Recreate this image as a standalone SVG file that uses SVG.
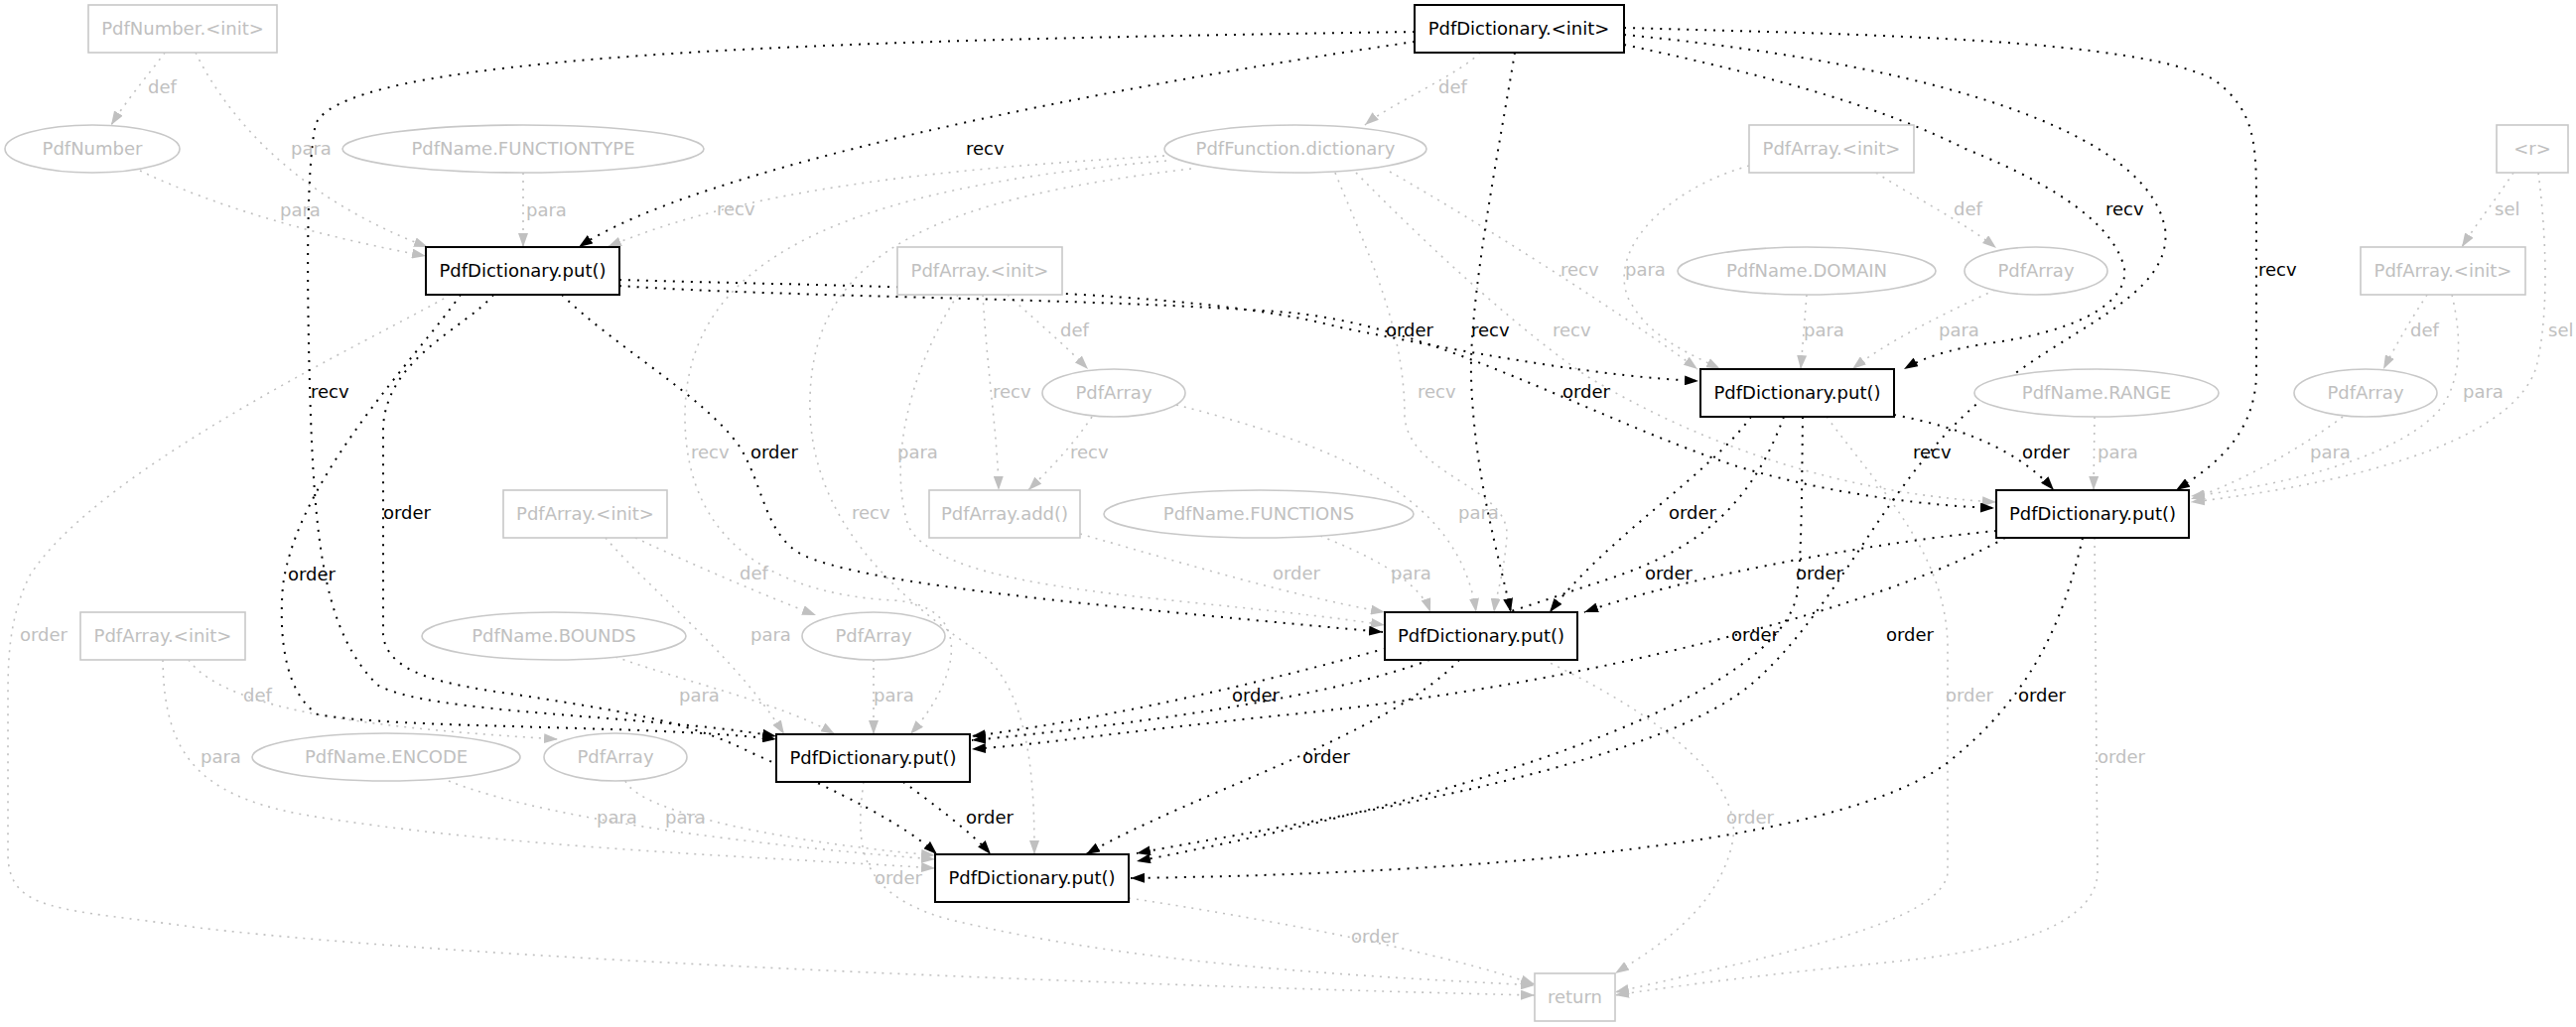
<svg xmlns="http://www.w3.org/2000/svg" width="2595" height="1035" viewBox="0 0 2595 1035">
<defs>
<style>
text{font-family:"DejaVu Sans","Liberation Sans",sans-serif;font-size:18px}
.nb rect{fill:#fff;stroke:#000;stroke-width:2}
.nb text{fill:#000;text-anchor:middle}
.ng rect,.ng ellipse{fill:#fff;stroke:#c8c8c8;stroke-width:1.6}
.ng text{fill:#c0c0c0;text-anchor:middle}
.eb{fill:none;stroke:#000;stroke-width:2;stroke-dasharray:2,7;marker-end:url(#ab)}
.eg{fill:none;stroke:#c0c0c0;stroke-width:1.6;stroke-dasharray:2,6;marker-end:url(#ag)}
.lb{fill:#000}
.lg{fill:#c0c0c0}
</style>
<marker id="ab" viewBox="0 0 14 10" refX="14" refY="5" markerWidth="14" markerHeight="10" markerUnits="userSpaceOnUse" orient="auto"><path d="M0,0L14,5L0,10z" fill="#000"/></marker>
<marker id="ag" viewBox="0 0 14 10" refX="14" refY="5" markerWidth="14" markerHeight="10" markerUnits="userSpaceOnUse" orient="auto"><path d="M0,0L14,5L0,10z" fill="#c0c0c0"/></marker>
</defs>
<rect width="2595" height="1035" fill="#fff"/>
<g id="edges">
<path class="eg" d="M166,53 C150,75 128,100 112,126"/>
<path class="eg" d="M197,53 C230,120 300,200 431,249"/>
<path class="eg" d="M141,172 C220,210 330,240 429,258"/>
<path class="eg" d="M527,174 L527,249"/>
<path class="eg" d="M1173,157 C950,170 750,190 612,249"/>
<path class="eg" d="M1175,162 C850,190 690,260 690,420 C690,560 800,600 900,605 C980,610 970,680 917,740"/>
<path class="eg" d="M1200,170 C950,200 820,250 816,400 C812,520 900,600 990,660 C1040,700 1042,800 1042,861"/>
<path class="eg" d="M1400,173 C1500,230 1640,320 1710,372"/>
<path class="eg" d="M1366,174 C1450,260 1540,340 1600,380 C1750,470 1900,500 2011,506"/>
<path class="eg" d="M1345,174 C1380,260 1415,330 1415,420 C1420,480 1520,490 1518,540 C1515,580 1507,600 1505,617"/>
<path class="eg" d="M1491,53 C1470,75 1400,105 1375,126"/>
<path class="eg" d="M1015,297 C1040,320 1070,345 1096,372"/>
<path class="eg" d="M990,297 C995,380 1005,440 1006,494"/>
<path class="eg" d="M1100,420 C1080,450 1055,475 1036,494"/>
<path class="eg" d="M965,297 C930,350 890,450 915,530 C950,600 1200,600 1395,630"/>
<path class="eg" d="M1088,538 C1200,570 1300,600 1395,617"/>
<path class="eg" d="M1185,408 C1350,450 1470,500 1487,617"/>
<path class="eg" d="M1330,540 C1380,560 1430,585 1441,617"/>
<path class="eg" d="M1890,174 C1930,200 1980,225 2011,250"/>
<path class="eg" d="M1762,167 C1680,190 1620,250 1640,300 C1660,340 1700,355 1733,372"/>
<path class="eg" d="M1820,297 L1814,372"/>
<path class="eg" d="M2010,292 C1950,320 1900,345 1866,372"/>
<path class="eg" d="M2532,174 C2515,200 2495,225 2480,249"/>
<path class="eg" d="M2557,174 C2568,260 2565,330 2555,370 C2530,450 2350,490 2207,506"/>
<path class="eg" d="M2445,297 C2430,320 2415,345 2401,372"/>
<path class="eg" d="M2470,297 C2480,340 2480,380 2460,410 C2420,460 2300,490 2207,500"/>
<path class="eg" d="M2360,420 C2320,450 2260,485 2207,503"/>
<path class="eg" d="M2110,420 L2109,494"/>
<path class="eg" d="M640,542 C700,570 770,600 822,620"/>
<path class="eg" d="M610,542 C660,600 740,660 790,740"/>
<path class="eg" d="M620,662 C700,690 790,710 841,740"/>
<path class="eg" d="M880,665 L880,740"/>
<path class="eg" d="M190,665 C230,720 400,735 562,745"/>
<path class="eg" d="M164,665 C165,760 200,800 300,820 C500,855 800,865 942,875"/>
<path class="eg" d="M452,787 C560,830 800,855 942,866"/>
<path class="eg" d="M630,787 C645,820 800,850 942,862"/>
<path class="eg" d="M454,297 C380,340 100,470 30,580 C10,620 8,660 8,700 L8,860 C8,920 60,915 200,935 C500,970 1200,995 1546,1003"/>
<path class="eg" d="M870,788 C860,860 870,900 950,925 C1150,975 1400,985 1546,993"/>
<path class="eg" d="M1137,905 C1300,930 1450,960 1546,992"/>
<path class="eg" d="M1555,665 C1650,710 1760,780 1745,850 C1730,920 1660,960 1627,981"/>
<path class="eg" d="M1840,420 C1900,500 1960,560 1962,650 L1962,880 C1955,930 1800,960 1627,1000"/>
<path class="eg" d="M2110,542 L2113,880 C2110,940 2000,960 1900,970 C1750,985 1680,995 1627,1003"/>
<path class="eb" d="M1425,42 C1100,90 700,170 583,249"/>
<path class="eb" d="M1425,32 C900,40 350,50 318,125 C308,170 309,300 313,420 C318,560 330,640 380,690 C430,720 650,720 782,742"/>
<path class="eb" d="M464,297 C420,360 300,480 285,590 C280,650 290,700 320,720 C400,735 650,730 782,745"/>
<path class="eb" d="M497,297 C470,330 390,360 386,430 L386,640 C390,680 450,690 520,700 C650,720 700,730 760,760 C850,800 910,830 944,861"/>
<path class="eb" d="M566,297 C620,350 710,400 745,450 C770,490 770,540 810,560 C880,590 1100,610 1393,637"/>
<path class="eb" d="M624,282 C900,290 1200,290 1350,330 C1500,360 1620,380 1711,384"/>
<path class="eb" d="M624,288 C800,300 1100,300 1300,315 C1450,330 1600,420 1750,470 C1850,500 1950,510 2009,512"/>
<path class="eb" d="M1526,53 C1510,150 1480,300 1482,380 C1485,480 1510,560 1522,617"/>
<path class="eb" d="M1636,45 C1800,80 1900,110 1980,150 C2080,190 2130,230 2140,270 C2145,310 2080,335 2010,345 C1960,352 1935,362 1918,372"/>
<path class="eb" d="M1636,35 C1900,60 2160,120 2181,230 C2190,300 2080,330 2000,400 C1900,480 1850,620 1760,693 C1650,780 1300,830 1145,860"/>
<path class="eb" d="M1636,28 C1900,35 2150,40 2230,80 C2270,110 2273,140 2273,200 L2273,380 C2270,440 2230,470 2192,494"/>
<path class="eb" d="M1908,418 C1970,430 2030,450 2069,494"/>
<path class="eb" d="M1764,420 C1720,480 1620,540 1561,617"/>
<path class="eb" d="M1797,420 C1760,520 1700,560 1600,590 C1400,660 1150,720 979,742"/>
<path class="eb" d="M1816,420 C1815,500 1815,560 1810,600 C1790,700 1500,800 1145,868"/>
<path class="eb" d="M2011,535 C1900,545 1700,580 1596,617"/>
<path class="eb" d="M2020,542 C1900,610 1600,690 1300,720 C1150,735 1050,750 979,755"/>
<path class="eb" d="M2098,542 C2080,620 2050,700 1960,770 C1850,850 1500,880 1139,885"/>
<path class="eb" d="M1440,665 C1350,700 1150,730 979,746"/>
<path class="eb" d="M1470,665 C1400,740 1200,800 1094,861"/>
<path class="eb" d="M910,788 C940,810 980,840 998,861"/>
<text class="lg" x="149" y="94">def</text>
<text class="lg" x="293" y="156">para</text>
<text class="lg" x="282" y="218">para</text>
<text class="lg" x="530" y="218">para</text>
<text class="lg" x="722" y="217">recv</text>
<text class="lg" x="1449" y="94">def</text>
<text class="lb" x="973" y="156">recv</text>
<text class="lg" x="1572" y="278">recv</text>
<text class="lg" x="1637" y="278">para</text>
<text class="lb" x="1396" y="339">order</text>
<text class="lb" x="1482" y="339">recv</text>
<text class="lg" x="1564" y="339">recv</text>
<text class="lg" x="1817" y="339">para</text>
<text class="lg" x="1068" y="339">def</text>
<text class="lg" x="1968" y="217">def</text>
<text class="lb" x="2121" y="217">recv</text>
<text class="lb" x="2275" y="278">recv</text>
<text class="lg" x="2513" y="217">sel</text>
<text class="lg" x="2428" y="339">def</text>
<text class="lg" x="2567" y="339">sel</text>
<text class="lg" x="1953" y="339">para</text>
<text class="lb" x="313" y="401">recv</text>
<text class="lb" x="386" y="523">order</text>
<text class="lb" x="290" y="585">order</text>
<text class="lg" x="20" y="646">order</text>
<text class="lg" x="1000" y="401">recv</text>
<text class="lg" x="696" y="462">recv</text>
<text class="lb" x="756" y="462">order</text>
<text class="lg" x="904" y="462">para</text>
<text class="lg" x="1078" y="462">recv</text>
<text class="lg" x="858" y="523">recv</text>
<text class="lg" x="745" y="584">def</text>
<text class="lg" x="756" y="646">para</text>
<text class="lg" x="1282" y="584">order</text>
<text class="lg" x="1428" y="401">recv</text>
<text class="lb" x="1574" y="401">order</text>
<text class="lg" x="1469" y="523">para</text>
<text class="lb" x="1681" y="523">order</text>
<text class="lg" x="1401" y="584">para</text>
<text class="lb" x="1657" y="584">order</text>
<text class="lb" x="1809" y="584">order</text>
<text class="lb" x="1744" y="646">order</text>
<text class="lb" x="1900" y="646">order</text>
<text class="lb" x="1927" y="462">recv</text>
<text class="lb" x="2037" y="462">order</text>
<text class="lg" x="2113" y="462">para</text>
<text class="lg" x="2327" y="462">para</text>
<text class="lg" x="2481" y="401">para</text>
<text class="lg" x="245" y="707">def</text>
<text class="lg" x="202" y="769">para</text>
<text class="lg" x="601" y="830">para</text>
<text class="lg" x="684" y="707">para</text>
<text class="lg" x="880" y="707">para</text>
<text class="lb" x="1241" y="707">order</text>
<text class="lb" x="973" y="830">order</text>
<text class="lg" x="670" y="830">para</text>
<text class="lg" x="881" y="891">order</text>
<text class="lb" x="1312" y="769">order</text>
<text class="lg" x="1739" y="830">order</text>
<text class="lg" x="1361" y="950">order</text>
<text class="lg" x="1960" y="707">order</text>
<text class="lb" x="2033" y="707">order</text>
<text class="lg" x="2113" y="769">order</text>
</g>
<g id="n_DI" class="nb"><rect x="1425" y="5" width="211" height="48"/><text x="1530" y="35">PdfDictionary.&lt;init&gt;</text></g>
<g id="n_NI" class="ng"><rect x="89" y="5" width="190" height="48"/><text x="184" y="35">PdfNumber.&lt;init&gt;</text></g>
<g id="n_N" class="ng"><ellipse cx="93" cy="150" rx="88" ry="24"/><text x="93" y="156">PdfNumber</text></g>
<g id="n_FT" class="ng"><ellipse cx="527" cy="150" rx="182" ry="24"/><text x="527" y="156">PdfName.FUNCTIONTYPE</text></g>
<g id="n_FD" class="ng"><ellipse cx="1305" cy="150" rx="132" ry="24"/><text x="1305" y="156">PdfFunction.dictionary</text></g>
<g id="n_A2" class="ng"><rect x="1762" y="126" width="166" height="48"/><text x="1845" y="156">PdfArray.&lt;init&gt;</text></g>
<g id="n_R" class="ng"><rect x="2515" y="126" width="72" height="48"/><text x="2551" y="156">&lt;r&gt;</text></g>
<g id="n_P1" class="nb"><rect x="429" y="249" width="195" height="48"/><text x="526.5" y="279">PdfDictionary.put()</text></g>
<g id="n_A1" class="ng"><rect x="904" y="249" width="166" height="48"/><text x="987" y="279">PdfArray.&lt;init&gt;</text></g>
<g id="n_DOM" class="ng"><ellipse cx="1820" cy="273" rx="130" ry="24"/><text x="1820" y="279">PdfName.DOMAIN</text></g>
<g id="n_E2" class="ng"><ellipse cx="2051" cy="273" rx="72" ry="24"/><text x="2051" y="279">PdfArray</text></g>
<g id="n_A3" class="ng"><rect x="2378" y="249" width="166" height="48"/><text x="2461" y="279">PdfArray.&lt;init&gt;</text></g>
<g id="n_E3" class="ng"><ellipse cx="1122" cy="396" rx="72" ry="24"/><text x="1122" y="402">PdfArray</text></g>
<g id="n_P2" class="nb"><rect x="1713" y="372" width="195" height="48"/><text x="1810.5" y="402">PdfDictionary.put()</text></g>
<g id="n_RANGE" class="ng"><ellipse cx="2112" cy="396" rx="123" ry="24"/><text x="2112" y="402">PdfName.RANGE</text></g>
<g id="n_E5" class="ng"><ellipse cx="2383" cy="396" rx="72" ry="24"/><text x="2383" y="402">PdfArray</text></g>
<g id="n_A5" class="ng"><rect x="507" y="494" width="165" height="48"/><text x="589.5" y="524">PdfArray.&lt;init&gt;</text></g>
<g id="n_ADD" class="ng"><rect x="936" y="494" width="152" height="48"/><text x="1012" y="524">PdfArray.add()</text></g>
<g id="n_FUNCS" class="ng"><ellipse cx="1268" cy="518" rx="156" ry="24"/><text x="1268" y="524">PdfName.FUNCTIONS</text></g>
<g id="n_P4" class="nb"><rect x="2011" y="494" width="194" height="48"/><text x="2108" y="524">PdfDictionary.put()</text></g>
<g id="n_A4" class="ng"><rect x="81" y="617" width="166" height="48"/><text x="164" y="647">PdfArray.&lt;init&gt;</text></g>
<g id="n_BOUNDS" class="ng"><ellipse cx="558" cy="641" rx="133" ry="24"/><text x="558" y="647">PdfName.BOUNDS</text></g>
<g id="n_E4" class="ng"><ellipse cx="880" cy="641" rx="72" ry="24"/><text x="880" y="647">PdfArray</text></g>
<g id="n_P3" class="nb"><rect x="1395" y="617" width="194" height="48"/><text x="1492" y="647">PdfDictionary.put()</text></g>
<g id="n_ENC" class="ng"><ellipse cx="389" cy="763" rx="135" ry="24"/><text x="389" y="769">PdfName.ENCODE</text></g>
<g id="n_E6" class="ng"><ellipse cx="620" cy="763" rx="72" ry="24"/><text x="620" y="769">PdfArray</text></g>
<g id="n_P5" class="nb"><rect x="782" y="740" width="195" height="48"/><text x="879.5" y="770">PdfDictionary.put()</text></g>
<g id="n_P6" class="nb"><rect x="942" y="861" width="195" height="48"/><text x="1039.5" y="891">PdfDictionary.put()</text></g>
<g id="n_RET" class="ng"><rect x="1546" y="981" width="81" height="48"/><text x="1586.5" y="1011">return</text></g>
</svg>
